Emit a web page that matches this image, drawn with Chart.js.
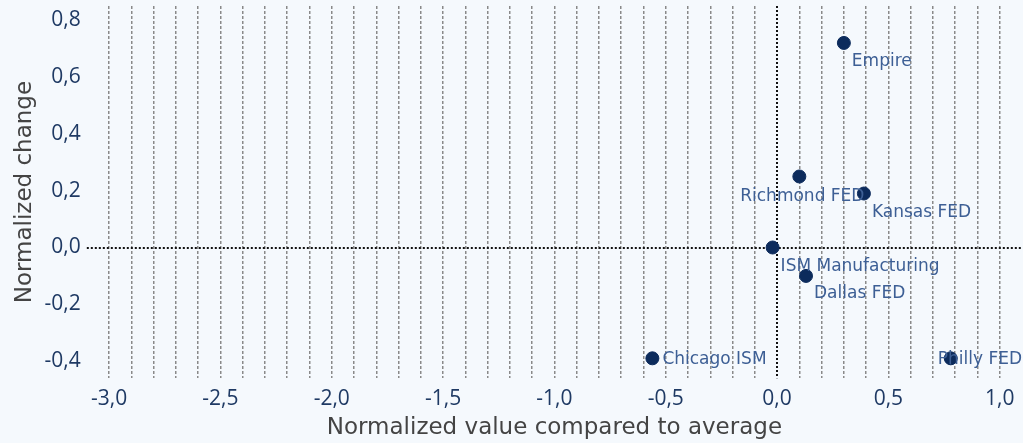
<!DOCTYPE html>
<html>
<head>
<meta charset="utf-8">
<script src="https://cdn.jsdelivr.net/npm/chart.js@4.4.0/dist/chart.umd.min.js"></script>
<style>
  html, body { margin: 0; padding: 0; background: #f5f9fd; }
  #wrap { width: 1023px; height: 443px; }
</style>
</head>
<body>
<div id="wrap"><canvas id="grafica"></canvas></div>
<script>
// dades
const names = ['Empire', 'Richmond FED', 'Kansas FED', 'ISM Manufacturing', 'Dallas FED', 'Chicago ISM', 'Philly FED'];
const xValues = [0.30, 0.10, 0.39, -0.02, 0.13, -0.56, 0.78];
const yValues = [0.72, 0.25, 0.19, 0.00, -0.10, -0.39, -0.39];

// posicio de les etiquetes respecte al punt (px)
const labelDx = [8, 3, 8, 8, 8, 10, -13];
const labelDy = [19, 20, 19, 19, 18, 1, 1];
const labelAlign = ['left', 'center', 'left', 'left', 'left', 'left', 'left'];

const navy = '#0c2b5c';
const fmt = v => v.toFixed(1).replace('.', ',');

const points = xValues.map((x, i) => ({ x: x, y: yValues[i] }));

const pointLabels = {
    id: 'pointLabels',
    afterDatasetsDraw(chart) {
        const ctx = chart.ctx;
        const meta = chart.getDatasetMeta(0);
        ctx.save();
        ctx.font = '17px "DejaVu Sans"';
        ctx.fillStyle = '#3d5f95';
        ctx.textBaseline = 'middle';
        meta.data.forEach((pt, i) => {
            ctx.textAlign = labelAlign[i];
            ctx.fillText(names[i], pt.x + labelDx[i], pt.y + labelDy[i]);
        });
        ctx.restore();
    }
};

const zeroLines = {
    id: 'zeroLines',
    beforeDatasetsDraw(chart) {
        const ctx = chart.ctx;
        const a = chart.chartArea;
        const x0 = chart.scales.x.getPixelForValue(0);
        const y0 = chart.scales.y.getPixelForValue(0);
        ctx.save();
        ctx.strokeStyle = '#111';
        ctx.lineWidth = 2;
        ctx.setLineDash([2, 2]);
        ctx.beginPath();
        ctx.moveTo(a.left, Math.round(y0));
        ctx.lineTo(a.right, Math.round(y0));
        ctx.moveTo(Math.round(x0), a.top);
        ctx.lineTo(Math.round(x0), a.bottom);
        ctx.stroke();
        ctx.restore();
    }
};

const noEdgePadding = scale => {
    scale.paddingTop = 0;
    scale.paddingBottom = 0;
    scale.paddingLeft = 0;
    scale.paddingRight = 0;
};

const graph = document.querySelector('#grafica');

new Chart(graph, {
    type: 'scatter',
    data: {
        datasets: [{
            data: points,
            backgroundColor: navy,
            borderColor: navy,
            pointRadius: 6.5,
            pointHoverRadius: 6.5
        }]
    },
    options: {
        responsive: true,
        maintainAspectRatio: false,
        animation: false,
        layout: { autoPadding: false, padding: { top: 6, right: 1, bottom: 1, left: 11 } },
        plugins: {
            legend: { display: false },
            tooltip: { enabled: false }
        },
        scales: {
            x: {
                type: 'linear',
                min: -3.1,
                max: 1.1,
                afterFit: noEdgePadding,
                border: { display: false, dash: [3, 2] },
                grid: {
                    drawTicks: false,
                    lineWidth: 1.5,
                    color: c => {
                        const v = c.tick ? c.tick.value : 0;
                        if (Math.abs(v) < 1e-6 || v < -3.05 || v > 1.05) return 'rgba(0,0,0,0)';
                        return '#8a8a8a';
                    }
                },
                ticks: {
                    stepSize: 0.1,
                    autoSkip: false,
                    maxRotation: 0,
                    padding: 8,
                    color: '#1f3a64',
                    font: { family: 'Open Sans', size: 21 },
                    callback: v => {
                        const r = Math.round(v * 10);
                        return (r % 5 === 0 && v > -3.05 && v < 1.05) ? fmt(v) : '';
                    }
                },
                title: {
                    display: true,
                    text: 'Normalized value compared to average',
                    color: '#444',
                    font: { family: 'DejaVu Sans', size: 23 },
                    padding: { top: -5, bottom: 0 }
                }
            },
            y: {
                type: 'linear',
                min: -0.46,
                max: 0.85,
                afterFit: noEdgePadding,
                border: { display: false },
                grid: { display: false, drawTicks: false },
                ticks: {
                    stepSize: 0.2,
                    includeBounds: false,
                    padding: 6,
                    color: '#1f3a64',
                    font: { family: 'Open Sans', size: 21 },
                    callback: v => fmt(v)
                },
                title: {
                    display: true,
                    text: 'Normalized change',
                    color: '#444',
                    font: { family: 'DejaVu Sans', size: 23 },
                    padding: { top: 0, bottom: 0 }
                }
            }
        }
    },
    plugins: [zeroLines, pointLabels]
});
</script>
</body>
</html>
